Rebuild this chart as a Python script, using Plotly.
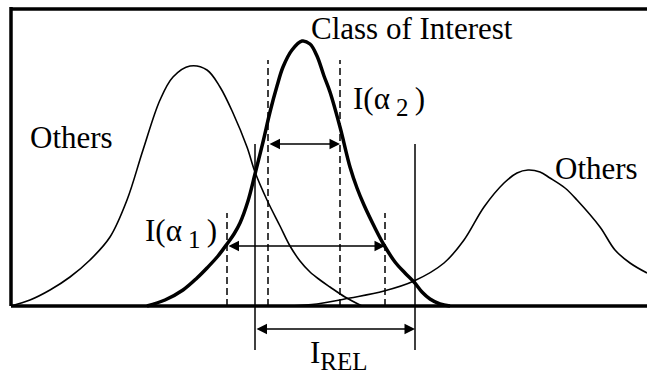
import plotly.graph_objects as go

# Horizontal positions along the measurement axis and curve heights above the baseline
others_left_x = [11, 30, 50, 70, 90, 110, 127, 143, 160, 173, 190, 207, 220, 233, 247, 255, 267, 280, 290, 300, 310, 320, 330, 345, 362]
others_left_h = [0, 6, 16, 29, 46, 69, 106, 156, 206, 229, 240, 236, 219, 193, 159, 134, 106, 80, 60, 45, 34, 26, 19, 9, 0]

interest_x = [147, 165, 183, 197, 207, 218, 227, 234, 240, 248, 255, 263, 270, 277, 283, 292, 302, 310, 317, 324, 330, 340, 350, 357, 364, 375, 384, 395, 405, 414, 422, 430, 440, 450]
interest_h = [0, 6, 16, 28, 38, 50, 62, 72, 83, 105, 132, 164, 194, 220, 239, 256, 265, 262, 250, 230, 214, 179, 139, 118, 101, 78, 61, 44, 33, 24, 14, 7, 2, 0]

others_right_x = [290, 317, 350, 384, 414, 444, 464, 484, 504, 517, 528, 540, 550, 565, 577, 600, 615, 630, 647]
others_right_h = [0, 2, 8, 15, 25, 43, 66, 99, 123, 133, 136, 134, 128, 118, 106, 79, 56, 43, 33]

# Interval bounds
alpha2_interval = (268, 340)
alpha1_interval = (227, 385)
rel_interval = (255, 415)

X0, X1 = 11, 647
TOP = 297

FONT = "'Liberation Serif', 'Times New Roman', Times, serif"

fig = go.Figure()

fig.add_trace(go.Scatter(x=others_left_x, y=others_left_h, mode="lines",
                         line=dict(color="black", width=1.6, shape="spline", smoothing=1.0)))
fig.add_trace(go.Scatter(x=others_right_x, y=others_right_h, mode="lines",
                         line=dict(color="black", width=1.6, shape="spline", smoothing=1.0)))
fig.add_trace(go.Scatter(x=interest_x, y=interest_h, mode="lines",
                         line=dict(color="black", width=3.5, shape="spline", smoothing=1.0)))

shapes = []
# frame: left, top, baseline
shapes.append(dict(type="line", x0=X0, x1=X0, y0=0, y1=TOP + 2, line=dict(color="black", width=3.5)))
shapes.append(dict(type="line", x0=X0, x1=X1, y0=TOP, y1=TOP, line=dict(color="black", width=3.5)))
shapes.append(dict(type="line", x0=X0, x1=X1, y0=0, y1=0, line=dict(color="black", width=3.5)))

# dashed interval bounds
dash = "7px,4px"
for xv in alpha2_interval:
    shapes.append(dict(type="line", x0=xv, x1=xv, y0=0, y1=246, line=dict(color="black", width=1.5, dash=dash)))
for xv in alpha1_interval:
    shapes.append(dict(type="line", x0=xv, x1=xv, y0=0, y1=93, line=dict(color="black", width=1.5, dash=dash)))
# solid reliability bounds
for xv in rel_interval:
    shapes.append(dict(type="line", x0=xv, x1=xv, y0=-44, y1=162, line=dict(color="black", width=1.5)))

annotations = []


def double_arrow(a, b, h):
    annotations.append(dict(x=b, y=h, ax=a, ay=h, xref="x", yref="y", axref="x", ayref="y",
                            text="", showarrow=True, arrowside="end+start",
                            arrowhead=2, startarrowhead=2, arrowsize=1.4, startarrowsize=1.4,
                            arrowwidth=1.5, arrowcolor="black", standoff=0, startstandoff=0))


double_arrow(alpha2_interval[0], alpha2_interval[1], 162)
double_arrow(alpha1_interval[0], alpha1_interval[1], 60)
double_arrow(rel_interval[0], rel_interval[1], -23)


def label(txt, x, h, size=31):
    annotations.append(dict(x=x, y=h, xref="x", yref="y", text=txt, showarrow=False,
                            xanchor="left", yanchor="middle",
                            font=dict(family=FONT, size=size, color="black")))


SUB = "<sub><span style='font-size:25px'>{}</span></sub>"

label("Class of Interest", 309, 278)
label("Others", 28, 169)
label("Others", 553, 138)
label("I(α\u2009" + SUB.format("2") + "\u2009)", 351, 205)
label("I(α\u2009" + SUB.format("1") + "\u2009)", 143, 73)
label("I" + SUB.format("REL"), 308, -49)

fig.update_layout(
    width=647, height=375,
    margin=dict(l=0, r=0, t=0, b=0),
    paper_bgcolor="white", plot_bgcolor="white",
    showlegend=False,
    shapes=shapes, annotations=annotations,
    xaxis=dict(range=[0, 647], visible=False, fixedrange=True),
    yaxis=dict(range=[-69, 306], visible=False, fixedrange=True),
)

fig.write_html("out.html")
